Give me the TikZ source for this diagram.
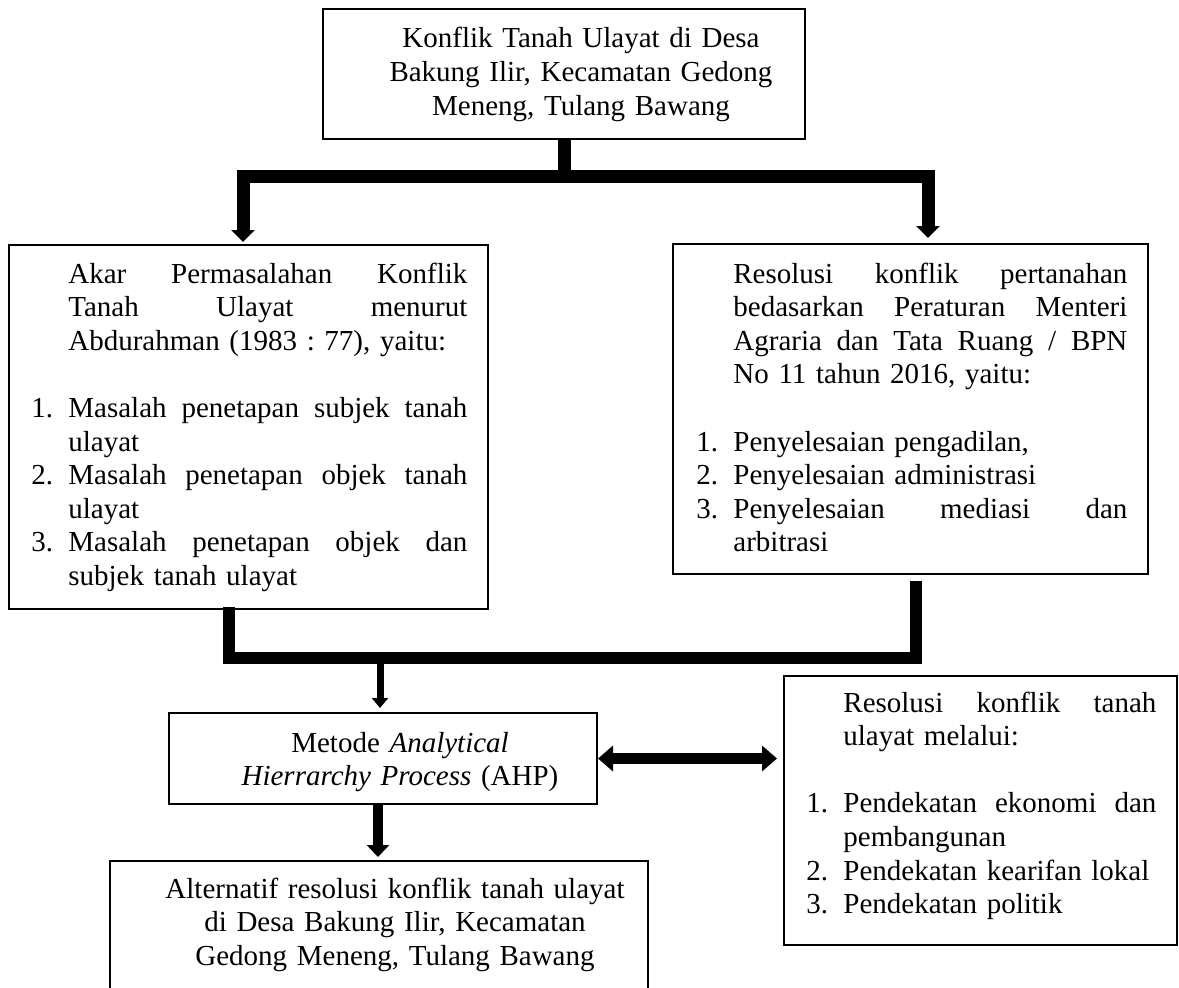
\documentclass[tikz,border=0pt]{standalone}
\usepackage{fontspec}
\setmainfont{Liberation Serif}
\usetikzlibrary{arrows.meta,calc}
\frenchspacing
\newcommand\jl[1]{\leavevmode\hbox to \hsize{#1}}
\newcommand\inum[1]{\leavevmode\llap{\hbox to 18.5pt{#1\hfil}}}
\begin{document}
\begin{tikzpicture}[x=0.5pt,y=-0.5pt,
  box/.style={draw,line width=1pt,rectangle,inner sep=0pt},
  txt/.style={inner sep=0pt,font=\fontsize{14.5pt}{16.8pt}\selectfont},
  bigbar/.style={line width=6.5pt,line join=miter,line cap=butt},
  midbar/.style={line width=6pt,line join=miter,line cap=butt},
  bigarrow/.style={bigbar,-{Triangle[width=11.5pt,length=6pt]}},
  smallarrow/.style={line width=3.5pt,-{Triangle[width=8pt,length=5pt]}},
  medarrow/.style={line width=5pt,-{Triangle[width=11pt,length=6pt]}},
  dblarrow/.style={line width=5.5pt,{Triangle[width=12.5pt,length=7.5pt]}-{Triangle[width=12.5pt,length=7.5pt]}}]
\useasboundingbox (0,0) rectangle (1179,987);
\clip (0,0) rectangle (1179,987);

% boxes
\node[box,minimum width=241pt,minimum height=65pt] (top) at (564,74) {};
\node[box,minimum width=239.5pt,minimum height=182pt] (left) at (248.5,427) {};
\node[box,minimum width=237.5pt,minimum height=165pt] (right) at (910.5,409) {};
\node[box,minimum width=214pt,minimum height=45.5pt] (ahp) at (383,758.5) {};
\node[box,minimum width=196.5pt,minimum height=134.5pt] (rb) at (980.5,810.5) {};
\node[box,minimum width=269pt,minimum height=74.5pt] (bot) at (379,935.5) {};

% texts
\node[txt,anchor=base,text width=240pt,align=center,font=\fontsize{14.5pt}{17pt}\selectfont] (topT) at (581,47)
  {Konflik Tanah Ulayat di Desa\\Bakung Ilir, Kecamatan Gedong\\Meneng, Tulang Bawang};

\node[txt,anchor=base west,text width=199.5pt] (leftT) at (68,283) {%
\jl{Akar\hfill Permasalahan\hfill Konflik}\\
\jl{Tanah\hfill Ulayat\hfill menurut}\\
Abdurahman (1983 : 77), yaitu:\\[16.8pt]
\inum{1.}\jl{Masalah\hfill penetapan\hfill subjek\hfill tanah}\\
ulayat\\
\inum{2.}\jl{Masalah\hfill penetapan\hfill objek\hfill tanah}\\
ulayat\\
\inum{3.}\jl{Masalah\hfill penetapan\hfill objek\hfill dan}\\
subjek tanah ulayat};

\node[txt,anchor=base west,text width=197pt] (rightT) at (733,283) {%
\jl{Resolusi\hfill konflik\hfill pertanahan}\\
\jl{bedasarkan\hfill Peraturan\hfill Menteri}\\
\jl{Agraria\hfill dan\hfill Tata\hfill Ruang\hfill /\hfill BPN}\\
No 11 tahun 2016, yaitu:\\[16.8pt]
\inum{1.}Penyelesaian pengadilan,\\
\inum{2.}Penyelesaian administrasi\\
\inum{3.}\jl{Penyelesaian\hfill mediasi\hfill dan}\\
arbitrasi};

\node[txt,anchor=base,text width=214pt,align=center,font=\fontsize{14.5pt}{16.5pt}\selectfont] (ahpT) at (400,752)
  {Metode \textit{Analytical}\\\textit{Hierrarchy Process} (AHP)};

\node[txt,anchor=base west,text width=156.5pt] (rbT) at (843,712) {%
\jl{Resolusi\hfill konflik\hfill tanah}\\
ulayat melalui:\\[16.8pt]
\inum{1.}\jl{Pendekatan\hfill ekonomi\hfill dan}\\
pembangunan\\
\inum{2.}Pendekatan kearifan lokal\\
\inum{3.}Pendekatan politik};

\node[txt,anchor=base,text width=255pt,align=center,font=\fontsize{14.5pt}{16.8pt}\selectfont] (botT) at (395,898)
  {Alternatif resolusi konflik tanah ulayat\\di Desa Bakung Ilir, Kecamatan\\Gedong Meneng, Tulang Bawang};

% upper connector
\coordinate (jt) at (564,176.5);
\draw[bigbar] (top.south) -- (jt);
\draw[bigarrow] (jt) -| ([xshift=-2.75pt,yshift=1pt]left.north);
\draw[bigarrow] (jt) -| ([xshift=8.75pt,yshift=2.5pt]right.north);

% lower connector
\coordinate (jb) at (380,657.5);
\draw[midbar] ([xshift=-10pt,yshift=1.5pt]left.south) |- (jb) -| ([xshift=2.75pt,yshift=-3pt]right.south);
\draw[smallarrow,shorten >=2pt] (jb) -- (jb |- ahp.north);

% lower arrows
\coordinate (a1) at ([xshift=-2.5pt]ahp.south);
\draw[medarrow,shorten >=1.5pt] (a1) -- (a1 |- bot.north);
\draw[dblarrow,shorten >=3pt] (ahp.east) -- (ahp.east -| rb.west);
\end{tikzpicture}
\end{document}
